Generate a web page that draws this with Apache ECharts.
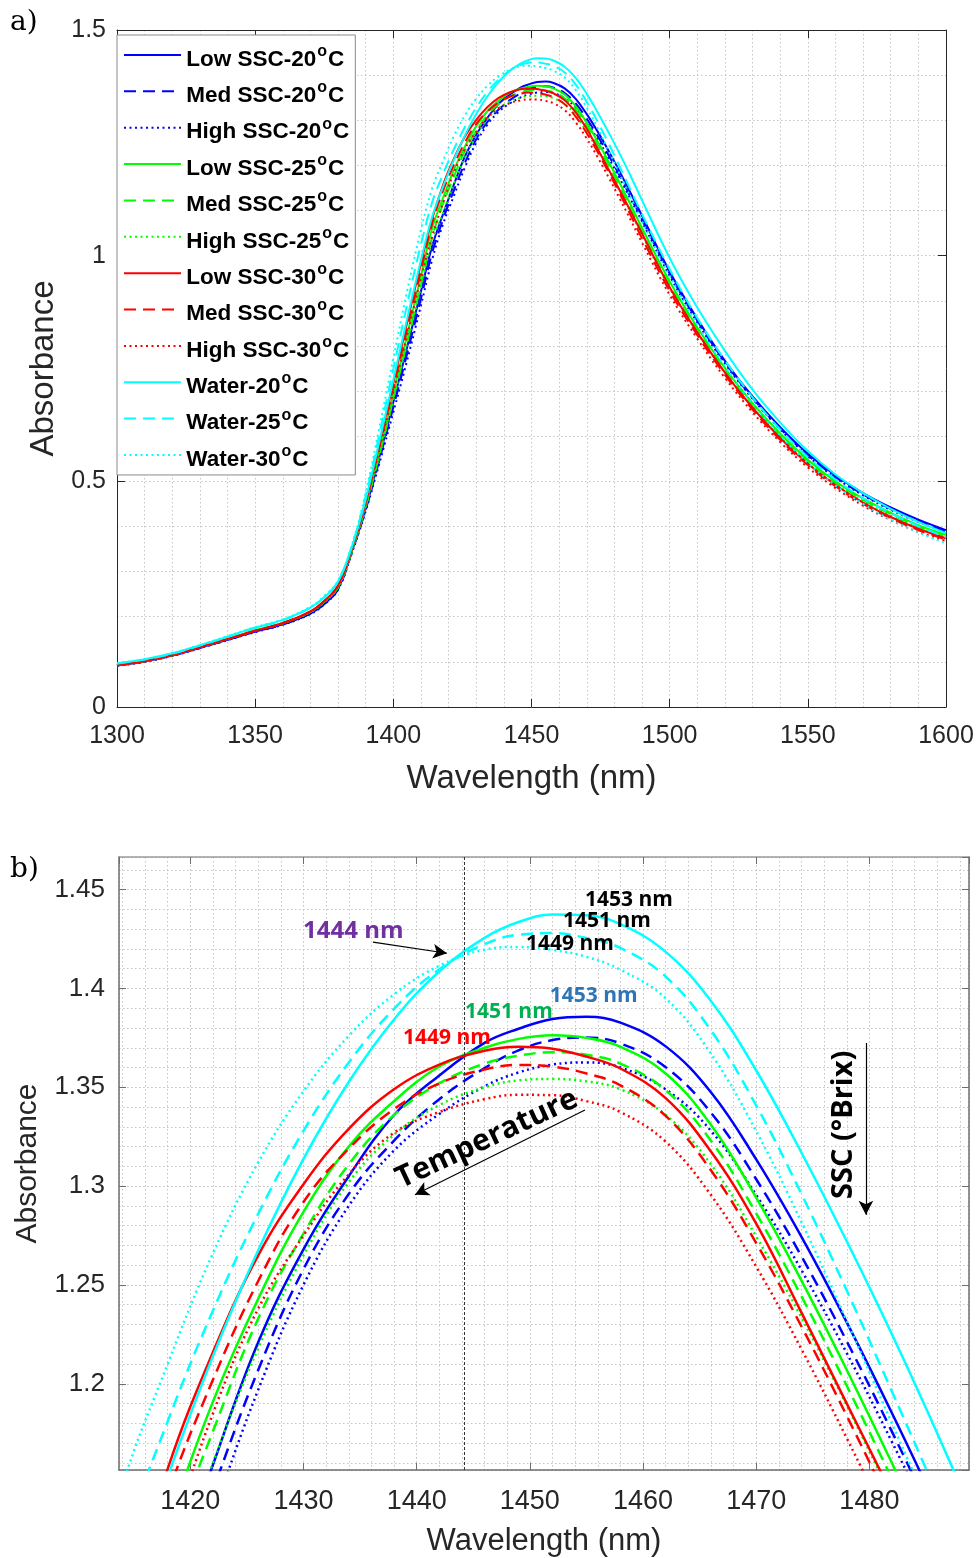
<!DOCTYPE html>
<html>
<head>
<meta charset="utf-8">
<script src="https://cdn.jsdelivr.net/npm/echarts@6/dist/echarts.min.js"></script>
<style>html,body{margin:0;padding:0;background:#fff}#c{width:977px;height:1558px}</style>
</head>
<body>
<div id="c"></div>
<script>
// ---------------- DATA ----------------
const wavelength = [1300,1310,1320,1330,1340,1350,1360,1370,1375,1380,1385,1390,1395,1400,1405,1410,1414,1418,1422,1426,1430,1434,1438,1442,1446,1449,1452,1455,1458,1462,1466,1470,1474,1478,1482,1486,1490,1500,1510,1520,1530,1540,1550,1560,1570,1580,1590,1600];

const lowSSC20 = [.092,.101,.114,.131,.149,.167,.183,.207,.228,.262,.345,.44,.555,.675,.797,.921,1.02,1.092,1.159,1.221,1.268,1.305,1.336,1.356,1.3725,1.3796,1.3846,1.3857,1.3827,1.3707,1.3475,1.3135,1.2743,1.2311,1.1851,1.1371,1.0883,.965,.86,.767,.688,.62,.561,.513,.474,.442,.415,.392];
const medSSC20 = [.092,.101,.114,.131,.149,.167,.183,.207,.228,.261,.343,.437,.548,.664,.783,.905,1.005,1.08,1.146,1.207,1.258,1.296,1.323,1.344,1.3597,1.3687,1.3739,1.3752,1.3722,1.3602,1.3372,1.3035,1.2645,1.2215,1.1757,1.1279,1.0795,.96,.856,.764,.685,.617,.558,.51,.471,.439,.412,.39];
const highSSC20 = [.091,.100,.113,.130,.148,.166,.182,.206,.227,.26,.341,.434,.541,.653,.768,.89,.99,1.07,1.134,1.197,1.250,1.290,1.318,1.3365,1.3505,1.3575,1.3615,1.3626,1.360,1.349,1.328,1.2955,1.2575,1.2155,1.1705,1.1235,1.0755,.955,.852,.761,.683,.615,.556,.508,.469,.437,.41,.388];
const lowSSC25 = [.093,.102,.115,.133,.151,.170,.186,.211,.233,.267,.348,.448,.568,.695,.825,.955,1.06,1.128,1.191,1.243,1.287,1.320,1.343,1.3605,1.370,1.3745,1.3763,1.375,1.3705,1.357,1.331,1.2942,1.2522,1.207,1.1598,1.111,1.0614,.943,.841,.751,.673,.606,.548,.5,.462,.43,.403,.381];
const medSSC25 = [.093,.102,.115,.133,.151,.170,.186,.211,.233,.266,.346,.444,.56,.683,.808,.935,1.04,1.115,1.176,1.233,1.276,1.311,1.336,1.352,1.362,1.366,1.3677,1.3665,1.362,1.3485,1.323,1.2862,1.2442,1.199,1.1518,1.103,1.0534,.935,.835,.746,.669,.602,.545,.497,.459,.427,.4,.379];
const highSSC25 = [.092,.101,.114,.132,.150,.169,.185,.210,.232,.265,.345,.443,.558,.68,.805,.93,1.03,1.095,1.160,1.218,1.265,1.302,1.326,1.341,1.350,1.3535,1.3542,1.353,1.349,1.336,1.311,1.2745,1.2335,1.189,1.1422,1.094,1.045,.928,.829,.741,.664,.598,.541,.494,.456,.424,.397,.376];
const lowSSC30 = [.093,.102,.115,.133,.151,.169,.186,.212,.235,.27,.352,.457,.585,.718,.852,.983,1.08,1.157,1.216,1.265,1.301,1.329,1.349,1.3615,1.3685,1.3705,1.3695,1.3655,1.3595,1.3445,1.3175,1.281,1.236,1.19,1.144,1.097,1.049,.93,.83,.741,.663,.596,.539,.492,.453,.421,.395,.374];
const medSSC30 = [.093,.102,.115,.133,.151,.169,.186,.212,.235,.269,.35,.453,.578,.708,.838,.968,1.07,1.144,1.202,1.252,1.292,1.319,1.339,1.352,1.359,1.3613,1.3605,1.357,1.351,1.3355,1.308,1.2712,1.229,1.1838,1.1365,1.0882,1.0385,.922,.824,.736,.659,.592,.536,.489,.45,.418,.392,.371];
const highSSC30 = [.092,.101,.114,.132,.150,.168,.185,.211,.234,.268,.348,.45,.572,.698,.824,.95,1.042,1.117,1.185,1.238,1.275,1.306,1.327,1.3375,1.344,1.3462,1.346,1.343,1.3375,1.3225,1.2955,1.2593,1.2175,1.1725,1.1255,1.0775,1.0285,.913,.816,.729,.653,.587,.531,.485,.446,.414,.388,.368];
const water20 = [.097,.106,.119,.137,.156,.176,.193,.220,.243,.278,.355,.46,.59,.725,.86,.99,1.085,1.153,1.214,1.2676,1.3138,1.3527,1.3843,1.4086,1.4256,1.4336,1.4374,1.437,1.4325,1.4185,1.3937,1.3585,1.3169,1.2721,1.2249,1.1749,1.1229,.995,.885,.789,.703,.63,.567,.515,.474,.439,.41,.385];
const water25 = [.096,.105,.118,.136,.155,.175,.192,.220,.243,.278,.357,.468,.606,.749,.892,1.025,1.117,1.181,1.237,1.286,1.328,1.3625,1.3897,1.4097,1.4224,1.4272,1.428,1.4255,1.4205,1.406,1.3788,1.3408,1.296,1.2472,1.196,1.144,1.092,.97,.862,.768,.686,.615,.554,.504,.463,.429,.401,.376];
const water30 = [.097,.106,.119,.137,.157,.177,.194,.222,.246,.28,.359,.475,.621,.772,.922,1.057,1.148,1.21,1.266,1.312,1.348,1.376,1.397,1.4115,1.4196,1.421,1.4195,1.416,1.4095,1.395,1.367,1.3278,1.2818,1.2318,1.1798,1.1278,1.0758,.955,.848,.754,.672,.602,.541,.491,.45,.415,.387,.363];

const seriesNames = ['Low SSC-20°C','Med SSC-20°C','High SSC-20°C','Low SSC-25°C','Med SSC-25°C','High SSC-25°C','Low SSC-30°C','Med SSC-30°C','High SSC-30°C','Water-20°C','Water-25°C','Water-30°C'];
const seriesValues = [lowSSC20, medSSC20, highSSC20, lowSSC25, medSSC25, highSSC25, lowSSC30, medSSC30, highSSC30, water20, water25, water30];

// axis ranges / tick steps
const rangeA = {xMin:1300, xMax:1600, xStep:50, yMin:0, yMax:1.5, yStep:0.5};
const rangeB = {xMin:1413.7, xMax:1488.8, xStep:10, xMinor:2, yMin:1.1564, yMax:1.4665, yStep:0.05, yMinor:0.01};

// annotations of panel b (wavelength, absorbance)
const crossWavelength = 1444.2;
const annoTexts = [
  {text:'1444 nm', at:[1429.96,1.4289], color:'#7030A0', size:24},
  {text:'1453 nm', at:[1454.87,1.4446], color:'#000000', size:21},
  {text:'1451 nm', at:[1452.93,1.4340], color:'#000000', size:21},
  {text:'1449 nm', at:[1449.66,1.4224], color:'#000000', size:21},
  {text:'1453 nm', at:[1451.76,1.3961], color:'#2E75B6', size:21},
  {text:'1451 nm', at:[1444.26,1.3880], color:'#00B050', size:21},
  {text:'1449 nm', at:[1438.79,1.3750], color:'#FF0000', size:21}
];
const arrows = [
  [[1436.14,1.4234],[1442.68,1.4178]],
  [[1454.87,1.3385],[1439.85,1.2956]],
  [[1479.69,1.3724],[1479.69,1.2855]]
];
const temperatureLabel = {text:'Temperature', at:[1446.2,1.3238], angleDeg:25};
const sscLabel = {text:'SSC (°Brix)', at:[1477.7,1.331]};

// ---------------- STYLE ----------------
const COLORS = ['#0000FF','#0000FF','#0000FF','#00FF00','#00FF00','#00FF00','#FF0000','#FF0000','#FF0000','#00FFFF','#00FFFF','#00FFFF'];
const lineType = i => i % 3 === 0 ? 'solid' : (i % 3 === 1 ? [12,7] : [2,3.5]);
const FONT = 'Liberation Sans, Arial, sans-serif';
const AX = '#262626';
const AXB = '#6e6e6e';
const gridStyle = {color:'#c6c6c6', width:1, type:[1.5,2.5]};

const isMult = (v, step) => Math.abs(v / step - Math.round(v / step)) < 1e-6;
const fmtMult = step => v => isMult(v, step) ? String(+(Math.round(v / step) * step).toFixed(2)) : '';

const chart = echarts.init(document.getElementById('c'), null, {renderer:'canvas'});

const series = [];
seriesValues.forEach((vals, i) => {
  series.push({
    name: seriesNames[i], type:'line', xAxisIndex:0, yAxisIndex:0,
    data: wavelength.map((w, k) => [w, vals[k]]),
    symbol:'none', smooth:0.4, animation:false, silent:true,
    lineStyle:{color:COLORS[i], width:2, type:lineType(i)}, itemStyle:{color:COLORS[i]}
  });
});
seriesValues.forEach((vals, i) => {
  series.push({
    name: seriesNames[i], type:'line', xAxisIndex:2, yAxisIndex:2,
    data: wavelength.map((w, k) => [w, vals[k]]),
    symbol:'none', smooth:0.4, animation:false, silent:true, clip:true,
    lineStyle:{color:COLORS[i], width:2.5, type:lineType(i)}, itemStyle:{color:COLORS[i]}
  });
});
series[12].markLine = {
  silent:true, animation:false, symbol:['none','none'], label:{show:false},
  data: [
    {xAxis: crossWavelength, lineStyle:{color:'#333', width:1, type:[3,2]}}
  ].concat(arrows.map(a => [
    {coord:a[0], symbol:'none', lineStyle:{color:'#000', width:1.2, type:'solid'}},
    {coord:a[1], symbol:'arrow', symbolSize:[11,14]}
  ]))
};

const legendRich = {
  h:{fontSize:1, lineHeight:32},
  n:{fontSize:22.5, fontWeight:'bold', fontFamily:FONT, color:'#000', lineHeight:24, verticalAlign:'bottom'},
  s:{fontSize:16, fontWeight:'bold', fontFamily:FONT, color:'#000', lineHeight:30.4, verticalAlign:'top', padding:[4.5,1,0,1]}
};

const mirror = (extra) => Object.assign({
  type:'value', axisLabel:{show:false}, splitLine:{show:false}
}, extra);

const option = {
  backgroundColor:'#fff',
  animation:false,
  grid:[
    {left:117, top:30, width:829, height:677},
    {left:119, top:857, width:850, height:614}
  ],
  legend:{
    orient:'vertical', left:117, top:35, padding:[4,6,4,6],
    itemWidth:57, itemHeight:24, itemGap:4.36,
    backgroundColor:'#fff', borderColor:'#8a8a8a', borderWidth:1,
    selectedMode:false,
    itemStyle:{opacity:0},
    data: seriesNames,
    formatter: name => '{h| }{n|' + name.replace('°C','') + '}{s|o}{n|C}',
    textStyle:{fontFamily:FONT, fontWeight:'bold', fontSize:22.5, color:'#000', rich:legendRich}
  },
  xAxis:[
    {type:'value', gridIndex:0, position:'bottom', min:rangeA.xMin, max:rangeA.xMax, interval:rangeA.xStep,
     axisLine:{show:true, onZero:false, lineStyle:{color:AX, width:1}},
     axisTick:{show:true, inside:true, length:8, lineStyle:{color:AX}},
     axisLabel:{show:true, formatter:fmtMult(rangeA.xStep), fontSize:25, color:AX, fontFamily:FONT, margin:17},
     splitLine:{show:true, lineStyle:gridStyle},
     minorTick:{show:false, splitNumber:5},
     minorSplitLine:{show:true, lineStyle:gridStyle},
     name:'Wavelength (nm)', nameLocation:'middle', nameGap:55,
     nameTextStyle:{fontSize:33, color:AX, fontFamily:FONT}},
    mirror({gridIndex:0, position:'top', min:rangeA.xMin, max:rangeA.xMax, interval:rangeA.xStep,
     axisLine:{show:true, onZero:false, lineStyle:{color:AX, width:1}},
     axisTick:{show:true, inside:true, length:8, lineStyle:{color:AX}}}),
    {type:'value', gridIndex:1, position:'bottom', min:rangeB.xMin, max:rangeB.xMax, minInterval:rangeB.xStep, maxInterval:rangeB.xStep,
     axisLine:{show:true, onZero:false, lineStyle:{color:AXB, width:1.5}},
     axisTick:{show:true, inside:true, length:7, lineStyle:{color:AXB}},
     axisLabel:{show:true, showMinLabel:false, showMaxLabel:false, formatter:fmtMult(rangeB.xStep), fontSize:27, color:AX, fontFamily:FONT, margin:18},
     splitLine:{show:true, lineStyle:gridStyle},
     name:'Wavelength (nm)', nameLocation:'middle', nameGap:56,
     nameTextStyle:{fontSize:31, color:AX, fontFamily:FONT}},
    mirror({gridIndex:1, position:'top', min:rangeB.xMin, max:rangeB.xMax, minInterval:rangeB.xStep, maxInterval:rangeB.xStep,
     axisLine:{show:true, onZero:false, lineStyle:{color:'#9a9a9a', width:1.5}},
     axisTick:{show:true, inside:true, length:7, lineStyle:{color:AXB}}}),
    {type:'value', gridIndex:1, position:'top', offset:0, min:rangeB.xMin, max:rangeB.xMax, minInterval:rangeB.xMinor, maxInterval:rangeB.xMinor,
     axisLine:{show:false}, axisTick:{show:false}, axisLabel:{show:false},
     splitLine:{show:true, lineStyle:gridStyle}}
  ],
  yAxis:[
    {type:'value', gridIndex:0, position:'left', min:rangeA.yMin, max:rangeA.yMax, interval:rangeA.yStep,
     axisLine:{show:true, onZero:false, lineStyle:{color:AX, width:1}},
     axisTick:{show:true, inside:true, length:8, lineStyle:{color:AX}},
     axisLabel:{show:true, formatter:fmtMult(rangeA.yStep), fontSize:25, color:AX, fontFamily:FONT, margin:11},
     splitLine:{show:true, lineStyle:gridStyle},
     minorTick:{show:false, splitNumber:5},
     minorSplitLine:{show:true, lineStyle:gridStyle},
     name:'Absorbance', nameLocation:'middle', nameGap:57,
     nameTextStyle:{fontSize:33, color:AX, fontFamily:FONT}},
    mirror({gridIndex:0, position:'right', min:rangeA.yMin, max:rangeA.yMax, interval:rangeA.yStep,
     axisLine:{show:true, onZero:false, lineStyle:{color:AX, width:1}},
     axisTick:{show:true, inside:true, length:8, lineStyle:{color:AX}}}),
    {type:'value', gridIndex:1, position:'left', min:rangeB.yMin, max:rangeB.yMax, minInterval:rangeB.yStep, maxInterval:rangeB.yStep,
     axisLine:{show:true, onZero:false, lineStyle:{color:AXB, width:1.5}},
     axisTick:{show:true, inside:true, length:7, lineStyle:{color:AXB}},
     axisLabel:{show:true, showMinLabel:false, showMaxLabel:false, formatter:fmtMult(rangeB.yStep), fontSize:26, color:AX, fontFamily:FONT, margin:14},
     splitLine:{show:true, lineStyle:gridStyle},
     name:'Absorbance', nameLocation:'middle', nameGap:76,
     nameTextStyle:{fontSize:30, color:AX, fontFamily:FONT}},
    mirror({gridIndex:1, position:'right', min:rangeB.yMin, max:rangeB.yMax, minInterval:rangeB.yStep, maxInterval:rangeB.yStep,
     axisLine:{show:true, onZero:false, lineStyle:{color:AXB, width:1.5}},
     axisTick:{show:true, inside:true, length:7, lineStyle:{color:AXB}}}),
    {type:'value', gridIndex:1, position:'right', offset:0, min:rangeB.yMin, max:rangeB.yMax, minInterval:rangeB.yMinor, maxInterval:rangeB.yMinor,
     axisLine:{show:false}, axisTick:{show:false}, axisLabel:{show:false},
     splitLine:{show:true, lineStyle:gridStyle}}
  ],
  series: series
};
chart.setOption(option);

// -------- annotations (positioned through the axes of panel b) --------
const toPx = p => chart.convertToPixel({xAxisIndex:2, yAxisIndex:2}, p);
const ANNO_FONT = '"Open Sans", Lato, sans-serif';
const graphics = [
  {type:'text', left:10, top:9, style:{text:'a)', font:'28px "DejaVu Serif", serif', fill:'#000'}},
  {type:'text', left:10, top:856, style:{text:'b)', font:'28px "DejaVu Serif", serif', fill:'#000'}}
];
annoTexts.forEach(a => {
  const p = toPx(a.at);
  graphics.push({type:'text', x:p[0], y:p[1], z:100,
    style:{text:a.text, fill:a.color, font:'bold ' + a.size + 'px ' + ANNO_FONT, textAlign:'left', textVerticalAlign:'middle'}});
});
{
  const p = toPx(temperatureLabel.at);
  graphics.push({type:'text', x:p[0], y:p[1], rotation:temperatureLabel.angleDeg*Math.PI/180, z:100,
    style:{text:temperatureLabel.text, fill:'#000', font:'bold 30px ' + ANNO_FONT, textAlign:'center', textVerticalAlign:'middle'}});
  const q = toPx(sscLabel.at);
  graphics.push({type:'text', x:q[0], y:q[1], rotation:Math.PI/2, z:100,
    style:{text:sscLabel.text, fill:'#000', font:'bold 29px ' + ANNO_FONT, textAlign:'center', textVerticalAlign:'middle'}});
}
chart.setOption({graphic:graphics});
</script>
</body>
</html>
